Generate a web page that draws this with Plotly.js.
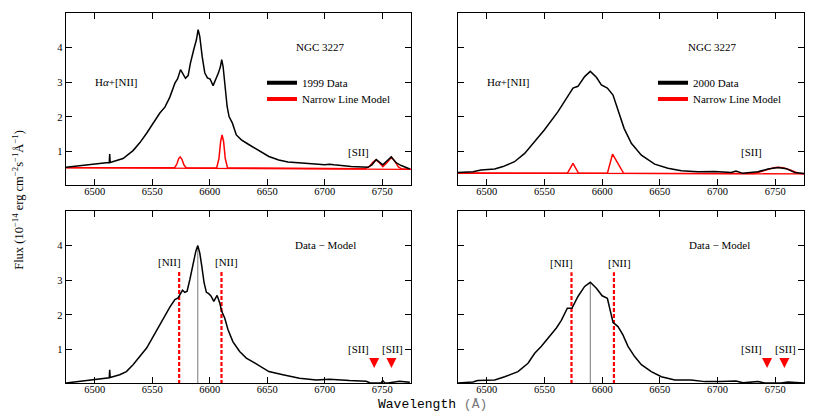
<!DOCTYPE html>
<html>
<head>
<meta charset="utf-8">
<script src="https://cdn.plot.ly/plotly-3.0.1.min.js"></script>
<style>
  html, body { margin: 0; padding: 0; background: #fff; }
  #chart { width: 830px; height: 412px; }
</style>
</head>
<body>
<div id="chart"></div>
<script>
// 1999 spectrum (top left)
const wave1999 = [6475, 6487, 6500, 6510, 6512.6, 6513, 6513.4, 6516, 6524.6, 6533.3, 6539.3, 6545.1, 6550.9, 6556.6, 6561, 6565.3, 6569.7, 6572, 6574.6, 6576.9, 6578.9, 6581.2, 6583.2, 6586.1, 6588.4, 6589.9, 6591.3, 6593.4, 6595.7, 6598, 6600.3, 6602.9, 6605.2, 6607.5, 6609.3, 6610.4, 6611.6, 6613.3, 6615.1, 6616.8, 6619.7, 6623.1, 6627.5, 6633.2, 6639, 6646.2, 6651.4, 6660, 6668, 6680, 6692, 6700, 6704, 6708, 6723, 6737.6, 6741, 6744.8, 6750.5, 6757.8, 6762, 6766.5, 6774];
const flux1999 = [0.55, 0.60, 0.64, 0.68, 0.68, 0.93, 0.69, 0.72, 0.80, 1.03, 1.26, 1.53, 1.82, 2.11, 2.28, 2.57, 2.97, 3.09, 3.36, 3.24, 3.11, 3.19, 3.55, 3.94, 4.22, 4.51, 4.32, 3.74, 3.26, 3.12, 3.09, 2.90, 3.07, 3.26, 3.45, 3.65, 3.45, 2.88, 2.30, 2.01, 1.82, 1.48, 1.34, 1.22, 1.10, 0.95, 0.86, 0.76, 0.70, 0.67, 0.64, 0.62, 0.64, 0.62, 0.57, 0.55, 0.62, 0.77, 0.62, 0.85, 0.68, 0.60, 0.50];
const waveModel1999 = [6475, 6569.5, 6571.5, 6573, 6574.3, 6575.8, 6577.5, 6579.5, 6606, 6608, 6609.5, 6610.7, 6612, 6613.5, 6615.5, 6735, 6739, 6742, 6744.5, 6747, 6750.5, 6754, 6758, 6761, 6764, 6767, 6775];
const fluxModel1999 = [0.54, 0.54, 0.65, 0.80, 0.85, 0.78, 0.62, 0.54, 0.53, 0.80, 1.30, 1.48, 1.30, 0.80, 0.53, 0.51, 0.58, 0.70, 0.76, 0.70, 0.57, 0.68, 0.84, 0.72, 0.56, 0.50, 0.49];
const contWave1999 = [6475, 6775];
const contFlux1999 = [0.54, 0.49];

// 1999 residual (bottom left)
const waveResid1999 = [6475, 6487, 6500, 6510, 6512.6, 6513, 6513.4, 6521.7, 6527.5, 6533.3, 6539.3, 6545.1, 6550.9, 6556.6, 6561, 6565.3, 6569.7, 6572.5, 6574.6, 6576.3, 6578.3, 6580.3, 6582.7, 6585.5, 6587.9, 6589.6, 6591.3, 6593.1, 6595.1, 6597.1, 6599.1, 6601.2, 6603.5, 6606.4, 6608.7, 6610.4, 6613, 6615.9, 6620.2, 6626, 6631.8, 6639, 6646.2, 6651.4, 6663.6, 6678, 6692.6, 6704, 6721.5, 6736, 6739.5, 6744.7, 6749, 6750.5, 6752, 6755, 6762, 6765, 6774];
const fluxResid1999 = [0.03, 0.08, 0.12, 0.17, 0.18, 0.41, 0.19, 0.27, 0.36, 0.56, 0.79, 1.04, 1.38, 1.72, 1.96, 2.22, 2.44, 2.49, 2.61, 2.71, 2.65, 2.68, 3.02, 3.50, 3.84, 4.00, 3.79, 3.40, 2.92, 2.65, 2.61, 2.54, 2.39, 2.56, 2.34, 2.10, 1.91, 1.57, 1.22, 0.94, 0.75, 0.61, 0.46, 0.36, 0.27, 0.17, 0.12, 0.14, 0.10, 0.08, 0.03, 0.03, 0.04, 0.10, 0.04, 0.03, 0.05, 0.08, 0.05];

// 2000 spectrum (top right)
const wave2000 = [6475, 6488, 6495, 6506.8, 6514, 6524, 6532.8, 6541.5, 6550, 6561.7, 6570.4, 6574.7, 6579, 6584.8, 6589.7, 6595, 6599.3, 6604.5, 6609.4, 6613.7, 6619, 6625.3, 6634, 6645.5, 6657, 6668.6, 6683, 6697.5, 6712, 6716, 6722, 6735, 6743.8, 6752.5, 6759.7, 6767, 6775];
const flux2000 = [0.40, 0.42, 0.47, 0.50, 0.57, 0.71, 0.95, 1.29, 1.63, 2.15, 2.63, 2.83, 2.88, 3.16, 3.31, 3.14, 2.92, 2.83, 2.63, 2.20, 1.67, 1.24, 0.90, 0.64, 0.52, 0.45, 0.42, 0.43, 0.40, 0.44, 0.375, 0.42, 0.50, 0.54, 0.51, 0.40, 0.37];
const waveModel2000 = [6475, 6569.8, 6574.7, 6579.6, 6604.5, 6609, 6618.6, 6732, 6742, 6749, 6752.5, 6757, 6763, 6770, 6775];
const fluxModel2000 = [0.38, 0.375, 0.66, 0.375, 0.375, 0.93, 0.375, 0.37, 0.47, 0.54, 0.55, 0.54, 0.47, 0.38, 0.36];
const contWave2000 = [6475, 6775];
const contFlux2000 = [0.385, 0.36];

// 2000 residual (bottom right)
const waveResid2000 = [6475, 6488, 6492, 6499.6, 6506.8, 6515.5, 6527, 6535.7, 6541.5, 6547.3, 6553, 6560.3, 6564.6, 6569.8, 6573.8, 6579, 6584.8, 6589.7, 6595, 6600, 6604.5, 6609.4, 6613.7, 6618, 6622.4, 6628, 6634, 6642.6, 6651.3, 6663, 6677, 6689, 6703, 6716, 6722, 6735, 6741, 6755, 6761, 6775];
const fluxResid2000 = [0.03, 0.06, 0.10, 0.12, 0.12, 0.21, 0.36, 0.60, 0.89, 1.09, 1.33, 1.62, 1.84, 2.19, 2.19, 2.53, 2.82, 2.94, 2.77, 2.55, 2.48, 1.78, 1.66, 1.42, 1.09, 0.80, 0.56, 0.36, 0.21, 0.12, 0.12, 0.07, 0.07, 0.09, 0.035, 0.07, 0.03, 0.03, 0.06, 0.03];

// line markers
const niiWave = [6573.4, 6610.2];
const niiTop = [3.26, 3.23];
const haWave = [6589.6, 6589.7];
const haTop = [4.00, 2.94];
const siiWave = [6743, 6758];
const siiArrowFlux = [0.46, 0.46];

const serif = '"Liberation Serif", serif';
const black = '#000000';
const red = '#ff0000';

function line(x, y, xa, ya, color, width, extra) {
    return Object.assign({
        x: x, y: y, xaxis: xa, yaxis: ya, type: 'scatter', mode: 'lines',
        line: {color: color, width: width}, showlegend: false, hoverinfo: 'skip'
    }, extra || {});
}

// legend-only entries, one legend box each so the rows sit where they do in the figure
function key(name, color, xa, ya, legendId) {
    return line([null], [null], xa, ya, color, 4, {name: name, showlegend: true, legend: legendId});
}

const data = [
    line(contWave1999, contFlux1999, 'x', 'y', red, 1.3),
    line(waveModel1999, fluxModel1999, 'x', 'y', red, 1.5),
    line(wave1999, flux1999, 'x', 'y', black, 1.5),
    key('1999 Data', black, 'x', 'y', 'legend'),
    key('Narrow Line Model', red, 'x', 'y', 'legend2'),

    line(contWave2000, contFlux2000, 'x2', 'y2', red, 1.3),
    line(waveModel2000, fluxModel2000, 'x2', 'y2', red, 1.5),
    line(wave2000, flux2000, 'x2', 'y2', black, 1.5),
    key('2000 Data', black, 'x2', 'y2', 'legend3'),
    key('Narrow Line Model', red, 'x2', 'y2', 'legend4')
];

// bottom panels: residual, thin Halpha line, dashed [NII], [SII] arrows
[['x3', 'y3', waveResid1999, fluxResid1999, 0], ['x4', 'y4', waveResid2000, fluxResid2000, 1]].forEach(p => {
    const [xa, ya, wx, fy, i] = p;
    data.push(line([haWave[i], haWave[i]], [0, haTop[i]], xa, ya, '#555555', 0.8));
    niiWave.forEach(w => {
        data.push(line([w, w], [0, niiTop[i]], xa, ya, red, 2, {line: {color: red, width: 2.2, dash: '4px,2px'}}));
    });
    data.push(line(wx, fy, xa, ya, black, 1.5));
    data.push({
        x: siiWave, y: siiArrowFlux, xaxis: xa, yaxis: ya, type: 'scatter', mode: 'markers',
        marker: {symbol: 'arrow-down', size: 10, color: red}, showlegend: false, hoverinfo: 'skip'
    });
});

const tickFont = {family: serif, size: 10.5, color: black};

function xAxis(domain, anchor) {
    return {
        domain: domain, anchor: anchor, range: [6475, 6775],
        tickvals: [6500, 6550, 6600, 6650, 6700, 6750],
        ticks: 'inside', ticklen: 6, tickwidth: 1, tickcolor: black,
        ticklabelstandoff: -4,
        showline: true, linecolor: black, linewidth: 1.3, mirror: 'ticks',
        showgrid: false, zeroline: false, tickfont: tickFont
    };
}
function yAxis(domain, anchor, range, labels) {
    return {
        domain: domain, anchor: anchor, range: range,
        tickvals: [1, 2, 3, 4], showticklabels: labels,
        ticks: 'inside', ticklen: 6, tickwidth: 1, tickcolor: black,
        showline: true, linecolor: black, linewidth: 1.3, mirror: 'ticks',
        showgrid: false, zeroline: false, tickfont: tickFont
    };
}

const colL = [66 / 830, 411 / 830];
const colR = [458 / 830, 804 / 830];
const rowT = [227 / 412, 399 / 412];
const rowB = [29 / 412, 201 / 412];

function note(text, x, y, xa, ya) {
    return {text: text, x: x, y: y, xref: xa, yref: ya, showarrow: false,
        font: {family: serif, size: 11, color: black}};
}

const annotations = [
    note('NGC 3227', 6695.6, 4.0, 'x', 'y'),
    note('H<i>α</i>+[NII]', 6519, 3.0, 'x', 'y'),
    note('[SII]', 6729, 1.0, 'x', 'y'),
    note('NGC 3227', 6695.5, 4.0, 'x2', 'y2'),
    note('H<i>α</i>+[NII]', 6519, 3.0, 'x2', 'y2'),
    note('[SII]', 6729.3, 1.0, 'x2', 'y2'),

    note('Data − Model', 6701, 4.03, 'x3', 'y3'),
    note('[NII]', 6564.6, 3.52, 'x3', 'y3'),
    note('[NII]', 6614.6, 3.52, 'x3', 'y3'),
    note('[SII]', 6729, 1.02, 'x3', 'y3'),
    note('[SII]', 6759.2, 1.02, 'x3', 'y3'),
    note('Data − Model', 6702, 4.03, 'x4', 'y4'),
    note('[NII]', 6564.6, 3.51, 'x4', 'y4'),
    note('[NII]', 6614.6, 3.51, 'x4', 'y4'),
    note('[SII]', 6729.3, 1.01, 'x4', 'y4'),
    note('[SII]', 6758.8, 1.01, 'x4', 'y4'),

    {text: 'Flux (10<sup>−14</sup> erg cm<sup>−2</sup>s<sup>−1</sup>Å<sup>−1</sup>)',
        x: 18 / 830, y: 0.515, xref: 'paper', yref: 'paper', textangle: -90, showarrow: false,
        xanchor: 'center', yanchor: 'middle',
        font: {family: serif, size: 12.5, color: black}},
    {text: 'Wavelength <span style="color:#777">(Å)</span>',
        x: 432 / 830, y: 8 / 412, xref: 'paper', yref: 'paper', showarrow: false,
        xanchor: 'center', yanchor: 'middle',
        font: {family: '"Liberation Mono", monospace', size: 13, color: black}}
];

function legendAt(xPx, yPx) {
    // yPx is the row centre in page pixels
    return {
        x: xPx / 830, y: (412 - yPx) / 412, xanchor: 'left', yanchor: 'middle',
        bgcolor: 'rgba(0,0,0,0)', borderwidth: 0, itemwidth: 30,
        font: {family: serif, size: 11, color: black}
    };
}

const layout = {
    width: 830, height: 412,
    margin: {l: 0, r: 0, t: 0, b: 0},
    paper_bgcolor: '#ffffff', plot_bgcolor: '#ffffff',
    xaxis: xAxis(colL, 'y'), yaxis: yAxis(rowT, 'x', [0.04, 4.99], true),
    xaxis2: xAxis(colR, 'y2'), yaxis2: yAxis(rowT, 'x2', [0.04, 4.99], false),
    xaxis3: xAxis(colL, 'y3'), yaxis3: yAxis(rowB, 'x3', [0.03, 5.0], true),
    xaxis4: xAxis(colR, 'y4'), yaxis4: yAxis(rowB, 'x4', [0.03, 5.0], false),
    legend: legendAt(262, 82.7),
    legend2: legendAt(262, 99),
    legend3: legendAt(653, 82.7),
    legend4: legendAt(653, 99),
    annotations: annotations
};

Plotly.newPlot('chart', data, layout, {displayModeBar: false, staticPlot: true});
</script>
</body>
</html>
